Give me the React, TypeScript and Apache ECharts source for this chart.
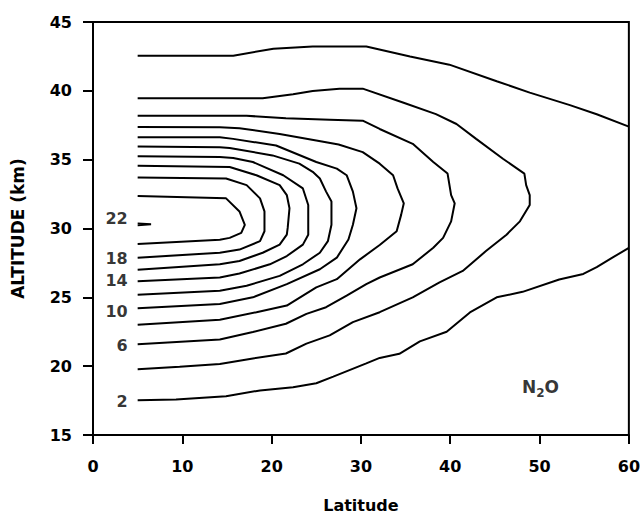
import React, { useEffect, useRef } from "react";
import * as echarts from "echarts";

// Contours of N2O, points as [latitude, altitude km]
const contour2Upper = [[5, 42.55], [15.7, 42.55], [20.2, 43.06], [24.6, 43.22], [30.6, 43.22], [35.5, 42.5], [39.9, 41.9], [45.2, 40.7], [48.9, 39.87], [53.4, 38.96], [56.4, 38.3], [60, 37.4]];
const contour2Lower = [[60, 28.6], [58.2, 27.9], [56.4, 27.2], [54.9, 26.7], [52.2, 26.3], [48.1, 25.4], [45.2, 25.0], [42.2, 23.9], [39.6, 22.5], [36.6, 21.8], [34.3, 20.9], [32.1, 20.6], [30.6, 20.2], [26.9, 19.24], [25.0, 18.76], [22.4, 18.47], [18.7, 18.24], [14.9, 17.81], [9.3, 17.57], [5, 17.52]];
const contour4 = [[5, 39.46], [19.0, 39.46], [22.4, 39.75], [24.6, 39.99], [27.6, 40.16], [30.2, 40.16], [34.7, 39.15], [38.4, 38.31], [40.7, 37.59], [42.9, 36.51], [45.9, 35.07], [48.3, 33.99], [48.5, 33.15], [48.9, 32.43], [48.9, 31.71], [47.8, 30.52], [46.3, 29.55], [44.0, 28.36], [41.4, 26.92], [38.8, 26.08], [35.8, 25.0], [32.1, 23.92], [29.1, 23.2], [26.5, 22.24], [23.9, 21.64], [21.6, 20.92], [17.9, 20.56], [14.2, 20.16], [9.7, 19.96], [5, 19.77]];
const contour6 = [[5, 38.19], [17.2, 38.19], [21.6, 38.0], [26.5, 37.9], [30.2, 37.83], [32.1, 37.23], [35.8, 36.15], [38.1, 34.83], [39.7, 33.99], [40.1, 32.43], [40.5, 31.83], [40.1, 30.52], [39.2, 29.32], [38.1, 28.6], [35.8, 27.4], [32.1, 26.44], [30.6, 25.96], [28.4, 25.12], [26.1, 24.28], [23.9, 23.8], [21.6, 23.08], [17.9, 22.48], [14.2, 21.93], [5, 21.6]];
const contour8 = [[5, 37.37], [14.2, 37.35], [16.4, 37.28], [20.9, 36.87], [25.0, 36.4], [27.5, 36.1], [30.2, 35.55], [32.1, 34.71], [33.6, 33.87], [34.1, 32.91], [34.8, 31.83], [34.5, 30.99], [34.0, 29.8], [32.1, 28.8], [29.9, 27.76], [27.3, 26.32], [25.0, 25.72], [21.7, 24.4], [18.3, 23.92], [14.2, 23.37], [5, 23.0]];
const contour10 = [[5, 36.63], [14.2, 36.63], [15.7, 36.51], [20.5, 36.03], [25.0, 34.83], [27.3, 34.35], [28.4, 33.87], [29.1, 32.68], [29.5, 31.47], [29.1, 30.27], [28.6, 29.2], [27.3, 27.88], [25.4, 27.04], [21.7, 25.96], [17.9, 25.0], [14.2, 24.52], [5, 24.2]];
const contour12 = [[5, 35.96], [14.2, 35.91], [15.3, 35.84], [20.1, 35.31], [23.1, 34.71], [24.6, 34.12], [25.4, 33.63], [26.1, 32.68], [26.7, 31.96], [26.7, 30.27], [26.3, 29.08], [25.4, 28.24], [23.5, 27.4], [20.9, 26.56], [17.2, 25.84], [14.2, 25.48], [5, 25.19]];
const contour14 = [[5, 35.24], [14.2, 35.19], [15.7, 35.12], [17.9, 34.83], [21.3, 33.87], [23.5, 32.91], [24.1, 31.71], [24.1, 29.55], [23.5, 28.83], [21.7, 28.0], [19.8, 27.4], [16.4, 26.73], [14.2, 26.44], [5, 26.17]];
const contour16 = [[5, 34.55], [15.3, 34.47], [18.3, 33.87], [20.9, 33.15], [21.7, 32.43], [22.0, 31.47], [21.8, 30.04], [21.7, 29.55], [20.9, 28.83], [19.0, 28.24], [16.4, 27.64], [14.2, 27.4], [5, 27.01]];
const contour18 = [[5, 33.71], [14.9, 33.63], [17.2, 33.15], [18.7, 32.19], [19.2, 31.24], [19.2, 29.8], [18.7, 29.08], [16.4, 28.47], [14.2, 28.24], [5, 27.88]];
const contour20 = [[5, 32.36], [14.9, 32.19], [16.4, 31.24], [17.0, 30.27], [16.6, 29.68], [15.3, 29.32], [14.2, 29.19], [5, 28.88]];
const contour22 = [[5, 30.36], [6.5, 30.3], [5, 30.24]];

// Contour labels
const labelLevels = ["2", "6", "10", "14", "18", "22"];
const labelLat = 5;
const labelAlts = [17.4, 21.5, 24.0, 26.25, 27.8, 30.75];

// Species annotation
const speciesPoint = [50.1, 18.5];

// Axes
const xMin = 0, xMax = 60, xStep = 10;
const yMin = 15, yMax = 45, yStep = 5;

const FONT = "DejaVu Sans";

export default function App() {
  const ref = useRef<HTMLDivElement>(null);

  useEffect(() => {
    document.body.style.margin = "0";
    document.body.style.overflow = "hidden";
    const chart = echarts.init(ref.current!, null, { renderer: "svg" });
    const contours = [contour2Upper, contour2Lower, contour4, contour6, contour8, contour10, contour12, contour14, contour16, contour18, contour20, contour22];
    const lineSeries = contours.map((c) => ({
      type: "line",
      data: c,
      showSymbol: false,
      symbol: "none",
      smooth: false,
      silent: true,
      lineStyle: { color: "#000", width: 2 },
    }));
    chart.setOption({
      animation: false,
      backgroundColor: "#fff",
      grid: { left: 93, right: 14, top: 22, bottom: 79, show: true, borderColor: "#000", borderWidth: 2, backgroundColor: "transparent" },
      xAxis: {
        type: "value",
        min: xMin,
        max: xMax,
        interval: xStep,
        name: "Latitude",
        nameLocation: "middle",
        nameGap: 62,
        nameTextStyle: { fontFamily: FONT, fontSize: 16, fontWeight: "bold", color: "#000" },
        axisLine: { show: true, onZero: false, lineStyle: { color: "#000", width: 2 } },
        axisTick: { show: true, length: 9, lineStyle: { color: "#000", width: 2 } },
        axisLabel: { margin: 23, fontFamily: FONT, fontSize: 16, fontWeight: "bold", color: "#000" },
        splitLine: { show: false },
      },
      yAxis: {
        type: "value",
        min: yMin,
        max: yMax,
        interval: yStep,
        name: "ALTITUDE (km)",
        nameLocation: "middle",
        nameGap: 67,
        nameTextStyle: { fontFamily: FONT, fontSize: 17, fontWeight: "bold", color: "#000" },
        axisLine: { show: true, onZero: false, lineStyle: { color: "#000", width: 2 } },
        axisTick: { show: true, length: 10, lineStyle: { color: "#000", width: 2 } },
        axisLabel: { margin: 21, fontFamily: FONT, fontSize: 16, fontWeight: "bold", color: "#000" },
        splitLine: { show: false },
      },
      series: [
        ...lineSeries,
        {
          type: "scatter",
          silent: true,
          symbolSize: 0,
          itemStyle: { color: "#000" },
          data: labelAlts.map((a, i) => ({ value: [labelLat, a], name: labelLevels[i] })),
          label: {
            show: true,
            position: "left",
            distance: 10,
            formatter: (p: any) => p.name,
            fontFamily: FONT,
            fontSize: 16,
            fontWeight: "bold",
            color: "#000",
          },
        },
        {
          type: "scatter",
          silent: true,
          symbolSize: 0,
          itemStyle: { color: "#000" },
          data: [speciesPoint],
          label: {
            show: true,
            position: "inside",
            color: "#000",
            textBorderWidth: 0,
            formatter: "{n|N}{s|2}{n|O}",
            rich: {
              n: { fontFamily: FONT, fontSize: 17, fontWeight: "bold", color: "#000", lineHeight: 24, verticalAlign: "middle", textBorderWidth: 0 },
              s: { fontFamily: FONT, fontSize: 12, fontWeight: "bold", color: "#000", lineHeight: 24, verticalAlign: "bottom", textBorderWidth: 0 },
            },
          },
        },
      ],
    });
    return () => chart.dispose();
  }, []);

  return <div ref={ref} style={{ width: 643, height: 518, overflow: "hidden" }} />;
}
